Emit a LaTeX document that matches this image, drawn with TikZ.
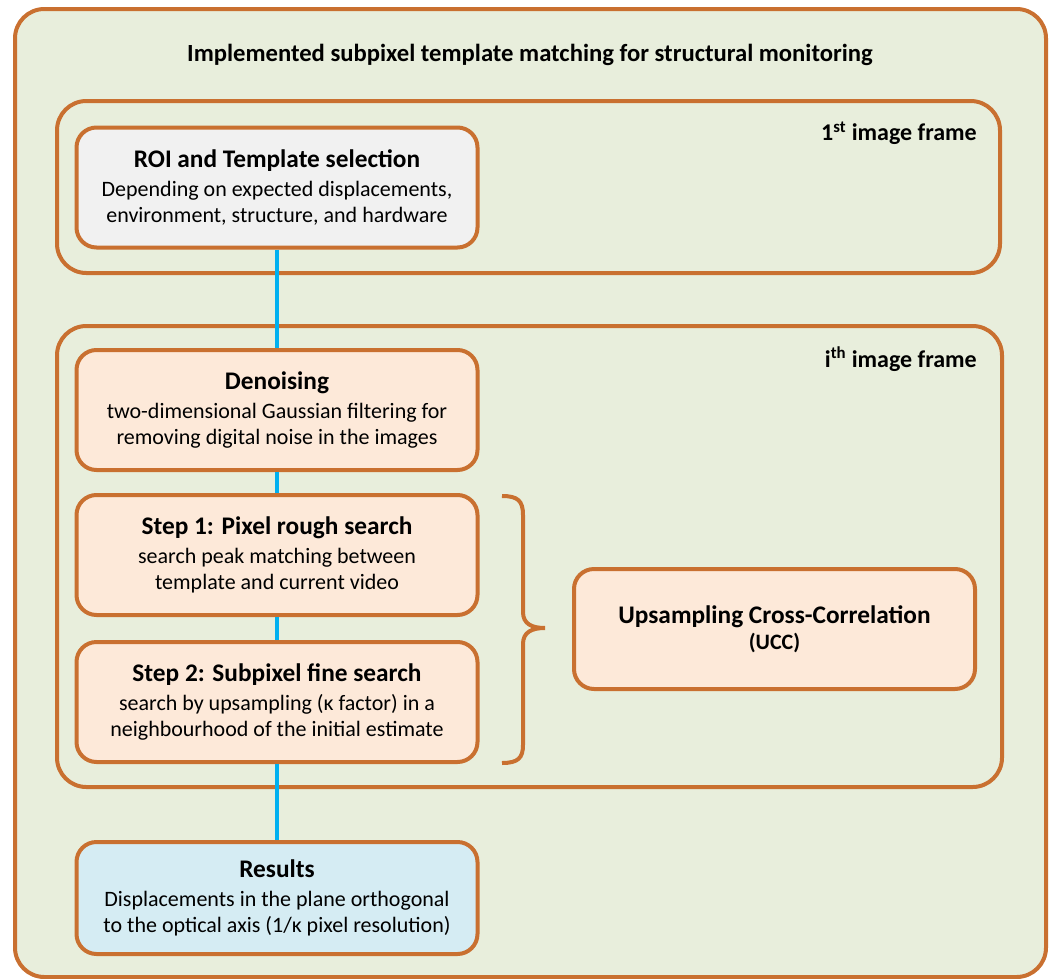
\documentclass[tikz,border=0pt]{standalone}
\usepackage{fontspec}
\setmainfont{Carlito}
\usetikzlibrary{positioning}

\definecolor{edgec}{RGB}{201,112,48}
\definecolor{peachc}{RGB}{253,233,217}
\definecolor{greenc}{RGB}{232,238,220}
\definecolor{greyc}{RGB}{241,241,241}
\definecolor{bluec}{RGB}{213,236,243}
\definecolor{linkc}{RGB}{0,176,240}

\newcommand{\bodyfont}{\fontsize{16.5}{19.5}\selectfont}
\newcommand{\headfont}{\fontsize{19}{21}\selectfont\bfseries}

\tikzset{
  stepbox/.style={draw=edgec, line width=3pt, rounded corners=15pt, fill=peachc,
    minimum width=300.75pt, minimum height=90pt, align=center, font=\bodyfont},
  framebox/.style={draw=edgec, line width=3pt, rounded corners=22pt, inner sep=0pt},
  framelabel/.style={anchor=east, inner sep=0pt, font=\fontsize{18}{20}\selectfont\bfseries},
  link/.style={draw=linkc, line width=2.4pt}
}

\begin{document}
\begin{tikzpicture}[x=0.75pt, y=-0.75pt]
                \useasboundingbox (0,0) rectangle (1051,979);

                % Outer panel and title
                \node at (530.5,493) [framebox, fill=greenc, minimum width=773.25pt, minimum height=726pt] (panel) {};
                \node at (530,55) [font=\fontsize{18.5}{21}\selectfont\bfseries] (title) {Implemented subpixel template matching for structural monitoring};

                % Image frames
                \node at (528.5,187) [framebox, minimum width=707.25pt, minimum height=129pt] (first) {};
                \node at (529.5,556.5) [framebox, minimum width=708.75pt, minimum height=345.75pt] (ith) {};
                \node at (977,133) [framelabel] (firstlabel) {1\textsuperscript{st} image frame};
                \node at (977,359) [framelabel] (ithlabel) {i\textsuperscript{th} image frame};

                % Boxes
                \node at (277,187.5) [stepbox, fill=greyc] (roi) {{\headfont ROI and Template selection}\\[2pt]Depending on expected displacements,\\environment, structure, and hardware};
                \node at (277,410) [stepbox] (denoise) {{\headfont Denoising}\\[2pt]two-dimensional Gaussian filtering for\\removing digital noise in the images};
                \node at (277,555) [stepbox] (rough) {{\headfont Step 1: Pixel rough search}\\[2pt]search peak matching between\\template and current video};
                \node at (277,702) [stepbox] (fine) {{\headfont Step 2: Subpixel fine search}\\[2pt]search by upsampling (κ factor) in a\\neighbourhood of the initial estimate};
                \node at (774.5,629) [stepbox] (ucc) {{\headfont Upsampling Cross-Correlation}\\{\fontsize{16.5}{18}\selectfont\bfseries (UCC)}};
                \node at (277,898) [stepbox, fill=bluec, minimum height=84pt] (results) {{\headfont Results}\\[2pt]Displacements in the plane orthogonal\\to the optical axis (1/κ pixel resolution)};

                % Links
                \draw[link] (roi.south) -- (denoise.north);
                \draw[link] (denoise.south) -- (rough.north);
                \draw[link] (rough.south) -- (fine.north);
                \draw[link] (fine.south) -- (results.north);

                % Brace
                \draw[edgec, line width=3pt] (502,496) .. controls (518,496) and (523,501) .. (523,515) -- (523,612)
                      .. controls (523,624) and (532,628) .. (545,628)
                      .. controls (532,628) and (523,632) .. (523,644) -- (523,745)
                      .. controls (523,758) and (518,763) .. (502,763);

                \end{tikzpicture}
\end{document}
